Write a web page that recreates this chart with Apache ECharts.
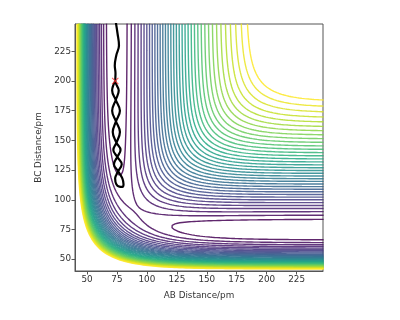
<!DOCTYPE html>
<html><head><meta charset="utf-8">
<script src="https://cdn.jsdelivr.net/npm/echarts@6/dist/echarts.min.js"></script>
<style>html,body{margin:0;padding:0;background:#fff}#c{width:400px;height:320px}</style>
</head><body><div id="c"></div>
<script>
// ---- data ----
const xRange = [40, 247];            // AB distance / pm
const yRange = [40, 248];            // BC distance / pm
const xTicks = [50, 75, 100, 125, 150, 175, 200, 225];
const yTicks = [50, 75, 100, 125, 150, 175, 200, 225];
// LEPS surface parameters (H + H2)
const morseD = 458;      // kJ/mol
const morseBeta = 0.01942; // 1/pm
const morseR0 = 74.14;   // pm
const satoK = 0.18;
// contour levels (kJ/mol)
const levelMin = -445, levelMax = -104, levelCount = 36;
const levels = [];
for (let k = 0; k < levelCount; k++) levels.push(levelMin + (levelMax - levelMin) * k / (levelCount - 1));
// trajectory (AB, BC) in pm
const trajAB = [73.6,71.0,74.0,77.5,74.2,71.5,74.6,78.0,75.3,72.5,76.0,79.5,80.5,79.5,77.0,74.5,73.5,74.5,76.0,79.0,75.3,72.0,74.6,77.5,74.2,71.0,74.0,76.5,73.6,73.8,73.2,74.5,76.7,75.5,74.0];
const trajBC = [200,192,184,175,166,157,148,142,136,130,124,118,113,110.8,111,113,118,121,124,130,136,142,148,157,166,175,184,192,200,206.5,213,221.7,230,240,250];
const startPoint = [73.6, 200];

// ---- LEPS + marching squares ----
function QJ(r){
  const e = Math.exp(-morseBeta*(r-morseR0));
  const f = morseD/(4*(1+satoK));
  return [f*((3+satoK)*e*e-(2+6*satoK)*e), f*((1+3*satoK)*e*e-(6+2*satoK)*e)];
}
function V(a,b){
  const A=QJ(a),B=QJ(b),C=QJ(a+b);
  return A[0]+B[0]+C[0]-Math.sqrt(0.5*((A[1]-B[1])**2+(B[1]-C[1])**2+(C[1]-A[1])**2));
}
const h=0.5;
const nx=Math.round((xRange[1]-xRange[0])/h)+3, ny=Math.round((yRange[1]-yRange[0])/h)+3;
const x0=xRange[0]-h, y0=yRange[0]-h;
const Z=new Float64Array(nx*ny);
for(let j=0;j<ny;j++)for(let i=0;i<nx;i++)Z[j*nx+i]=V(x0+i*h,y0+j*h);

function contour(L){
  const pts=new Map(), adj=new Map();
  function edgePt(id){
    if(pts.has(id))return pts.get(id);
    const k=id>>1, i=k%nx, j=(k-i)/nx;
    let p;
    if((id&1)===0){const a=Z[j*nx+i],b=Z[j*nx+i+1];const t=(L-a)/(b-a);p=[x0+(i+t)*h,y0+j*h];}
    else{const a=Z[j*nx+i],b=Z[(j+1)*nx+i];const t=(L-a)/(b-a);p=[x0+i*h,y0+(j+t)*h];}
    pts.set(id,p);return p;
  }
  function link(a,b){
    if(!adj.has(a))adj.set(a,[]);if(!adj.has(b))adj.set(b,[]);
    adj.get(a).push(b);adj.get(b).push(a);
  }
  for(let j=0;j<ny-1;j++)for(let i=0;i<nx-1;i++){
    const v0=Z[j*nx+i],v1=Z[j*nx+i+1],v2=Z[(j+1)*nx+i+1],v3=Z[(j+1)*nx+i];
    const c=(v0>L?1:0)|(v1>L?2:0)|(v2>L?4:0)|(v3>L?8:0);
    if(c===0||c===15)continue;
    const e0=2*(j*nx+i),e1=2*(j*nx+i+1)+1,e2=2*((j+1)*nx+i),e3=2*(j*nx+i)+1;
    switch(c){
      case 1:case 14:link(e3,e0);break;
      case 2:case 13:link(e0,e1);break;
      case 3:case 12:link(e3,e1);break;
      case 4:case 11:link(e1,e2);break;
      case 6:case 9:link(e0,e2);break;
      case 7:case 8:link(e3,e2);break;
      case 5:case 10:{
        const m=(v0+v1+v2+v3)/4;
        if((c===5)===(m>L)){link(e3,e2);link(e0,e1);}else{link(e3,e0);link(e1,e2);}
        break;}
    }
  }
  const used=new Set(), lines=[];
  function walk(start){
    const line=[edgePt(start)];used.add(start);
    let prev=-1,cur=start;
    while(true){
      const nb=adj.get(cur);let nxt=-1;
      for(const n of nb){if(!used.has(n)){nxt=n;break;}}
      if(nxt<0){
        for(const n of nb){if(n===start&&prev!==start&&line.length>2){line.push(edgePt(start));}}
        break;}
      used.add(nxt);line.push(edgePt(nxt));prev=cur;cur=nxt;
    }
    return line;
  }
  for(const [k,nb] of adj){if(nb.length===1&&!used.has(k))lines.push(walk(k));}
  for(const [k] of adj){if(!used.has(k))lines.push(walk(k));}
  return lines;
}
const vir=['#440154','#482475','#414487','#355f8d','#2a788e','#21918c','#22a884','#44bf70','#7ad151','#bddf26','#fde725'];
function viridis(t){
  const s=t*10,i=Math.min(9,Math.floor(s)),f=s-i;
  const a=vir[i],b=vir[i+1];
  const ch=(c,o)=>parseInt(c.substr(o,2),16);
  const r=Math.round(ch(a,1)+(ch(b,1)-ch(a,1))*f),g=Math.round(ch(a,3)+(ch(b,3)-ch(a,3))*f),bb=Math.round(ch(a,5)+(ch(b,5)-ch(a,5))*f);
  return 'rgb('+r+','+g+','+bb+')';
}
const series=[];
levels.forEach((L,k)=>{
  const col=viridis(k/(levels.length-1));
  contour(L).forEach(line=>{
    series.push({type:'line',data:line,showSymbol:false,silent:true,animation:false,
      lineStyle:{color:col,width:1.4,opacity:0.85},z:1});
  });
});
series.push({type:'line',data:trajAB.map((x,i)=>[x,trajBC[i]]),showSymbol:false,smooth:0.4,animation:false,
  lineStyle:{color:'#000',width:2.2},z:5});
series.push({type:'scatter',data:[startPoint],symbol:'path://M1,0L5,4L9,0L10,1L6,5L10,9L9,10L5,6L1,10L0,9L4,5L0,1Z',
  symbolSize:7,itemStyle:{color:'#ff2a2a'},z:10,zlevel:1,animation:false});

const font='DejaVu Sans';
const chart=echarts.init(document.getElementById('c'),null,{renderer:'canvas'});
chart.setOption({
  animation:false,
  grid:{left:75,right:77,top:24,bottom:49,show:true,borderColor:'#555',borderWidth:1,backgroundColor:'#fff'},
  xAxis:{type:'value',min:xRange[0],max:xRange[1],name:'AB Distance/pm',nameLocation:'middle',nameGap:20,
    nameTextStyle:{fontFamily:font,fontSize:8.8,color:'#333'},
    splitLine:{show:false},axisLine:{show:true,lineStyle:{color:'#555'}},
    axisTick:{show:true,length:3.5,lineStyle:{color:'#555'},customValues:xTicks},
    axisLabel:{fontFamily:font,fontSize:8.8,color:'#333',margin:4,customValues:xTicks}},
  yAxis:{type:'value',min:yRange[0],max:yRange[1],name:'BC Distance/pm',nameLocation:'middle',nameGap:27,
    nameTextStyle:{fontFamily:font,fontSize:8.8,color:'#333'},
    splitLine:{show:false},axisLine:{show:true,lineStyle:{color:'#555'}},
    axisTick:{show:true,length:3.5,lineStyle:{color:'#555'},customValues:yTicks},
    axisLabel:{fontFamily:font,fontSize:8.8,color:'#333',margin:4,customValues:yTicks}},
  series:series
});
</script></body></html>
